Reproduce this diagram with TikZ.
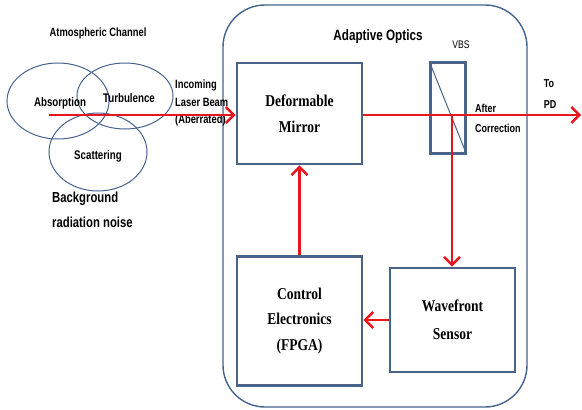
\documentclass[tikz,border=0pt]{standalone}
\usepackage{fontspec}
\setmainfont{Liberation Serif}
\newfontfamily\narrowsans[FakeStretch=0.78]{Liberation Sans}
\newfontfamily\narrowserif[FakeStretch=0.82]{Liberation Serif}
\usetikzlibrary{arrows.meta}
\definecolor{boxblue}{HTML}{4A6489}
\definecolor{lineblue}{HTML}{45638F}
\definecolor{beamred}{HTML}{E5161D}
\tikzset{
  block/.style={draw=boxblue, line width=2.8pt, fill=white, inner sep=0pt,
    font=\narrowserif\bfseries\fontsize{16.5}{26}\selectfont, align=center},
  cloud/.style={draw=lineblue, line width=1pt},
  lbl/.style={font=\narrowsans\bfseries\fontsize{10}{12}\selectfont, inner sep=0pt},
  beam/.style={draw=beamred, line width=2.6pt, -{Straight Barb[length=8pt, width=16pt, line width=2.4pt]}},
}
\begin{document}
\begin{tikzpicture}[x=1pt, y=-1pt]
\useasboundingbox (0,0) rectangle (582,410);

% adaptive optics enclosure
\draw[draw=lineblue, line width=1.4pt, rounded corners=42pt] (223,5) rectangle (527,407);
\node[font=\narrowsans\bfseries\fontsize{15}{17}\selectfont] (ao) at (378,37) {Adaptive Optics};

% atmospheric channel
\node[lbl, font=\narrowsans\bfseries\fontsize{12}{14}\selectfont] (atm) at (98,33) {Atmospheric Channel};
\draw[cloud] (58,101) ellipse [x radius=51, y radius=38];
\draw[cloud] (125,96) ellipse [x radius=48, y radius=33];
\draw[cloud] (98,152) ellipse [x radius=49, y radius=39];
\node[lbl, font=\narrowsans\bfseries\fontsize{12.5}{14}\selectfont] (abs) at (60,103) {Absorption};
\node[lbl, font=\narrowsans\bfseries\fontsize{12.5}{14}\selectfont] (turb) at (129,98) {Turbulence};
\node[lbl, font=\narrowsans\bfseries\fontsize{12.5}{14}\selectfont] (scat) at (98,156) {Scattering};
\node[lbl, font=\narrowsans\bfseries\fontsize{14.5}{25}\selectfont, align=left, anchor=north west] (bg) at (52,192) {Background\\radiation noise};
\node[lbl, align=left, anchor=north west, font=\narrowsans\bfseries\fontsize{12}{17.5}\selectfont] (inc) at (175,80) {Incoming\\Laser Beam\\(Aberrated)};

% blocks
\node[block, minimum width=125pt, minimum height=101pt] (dm) at (299.5,113.5) {Deformable\\Mirror};
\node[block, minimum width=125pt, minimum height=129pt, font=\narrowserif\bfseries\fontsize{16.5}{25.5}\selectfont] (ce) at (299.5,321) {Control\\Electronics\\(FPGA)};
\node[block, minimum width=125pt, minimum height=104pt, font=\narrowserif\bfseries\fontsize{16.5}{28}\selectfont] (wfs) at (452.5,320) {Wavefront\\Sensor};

% variable beam splitter
\node[draw=boxblue, line width=2.6pt, minimum width=35pt, minimum height=91pt, inner sep=0pt] (vbs) at (448,108) {};
\draw[draw=lineblue, line width=1pt] (vbs.north west) -- (vbs.south east);
\node[font=\narrowsans\fontsize{11}{13}\selectfont] (vbsl) at (461,45) {VBS};
\node[lbl, align=left, font=\narrowsans\bfseries\fontsize{11.5}{21}\selectfont] (topd) at (550,94) {To\\PD};
\node[lbl, align=left, anchor=west, font=\narrowsans\bfseries\fontsize{11.5}{20}\selectfont] (after) at (475,118) {After\\Correction};

% beam path
\coordinate (src) at (49,115);
\coordinate (pd) at (581,115);
\coordinate (split) at (452,115);
\draw[beam] (src) -- (dm.west |- src);
\draw[draw=beamred, line width=2.6pt] (dm.east |- src) -- (split);
\draw[beam] (split) -- (pd);
\draw[beam] (split) -- (split |- wfs.north);
\draw[beam] (wfs.west |- 0,320) -- (ce.east |- 0,320);
\draw[beam] (ce.north) -- (dm.south);
\end{tikzpicture}
\end{document}
